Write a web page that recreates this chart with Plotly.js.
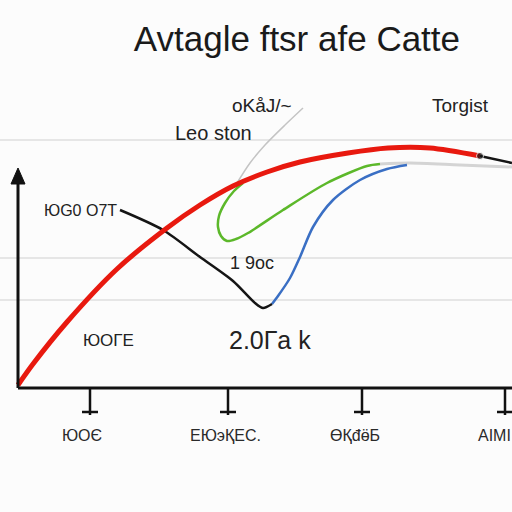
<!DOCTYPE html>
<html><head><meta charset="utf-8">
<script src="https://cdn.plot.ly/plotly-3.0.1.min.js"></script>
<style>html,body{margin:0;padding:0;background:#fcfcfc;}#chart{width:512px;height:512px;}</style>
</head><body><div id="chart"></div>
<script>
// Data (x: distance right of the vertical axis, y: height above the horizontal axis)
const redX   = [0, 15, 49, 99, 149, 182, 215, 249, 282, 330, 370, 412, 462];
const redY   = [3, 24, 66, 119, 160, 183, 202, 216, 226, 235, 240, 240, 232];
const blackX = [102, 145, 182, 215, 237, 245, 254];
const blackY = [178, 158, 131, 107, 85, 80, 84];
const blackTailX = [462, 494];
const blackTailY = [232, 225];
const blueX  = [254, 260, 272, 282, 295, 315, 342, 369, 389];
const blueY  = [84, 92, 110, 131, 161, 188, 208, 219, 223];
const greenX = [225, 216, 207, 201, 200, 203, 209, 218, 230, 265, 309, 349, 362];
const greenY = [205, 197, 185, 172, 161, 152, 147, 149, 155, 178, 205, 222, 224];
const grayTailX = [362, 392, 442, 494];
const grayTailY = [224, 225, 223, 221];
const grayUpX = [285, 267, 247, 232, 219];
const grayUpY = [280, 263, 243, 225, 205];

const tickVals   = [72, 210, 344, 487];
const tickLabels = ["ЮОЄ", "ЕЮэҚЕС.", "ӨҚđӫБ", "AIMI"];
const tickLabelX = [64, 207, 337, 476];
const gridVals   = [88, 130, 248];

const noteTexts = ["oKåJ/~", "Torgist", "Leo ston", "ЮG0 O7T", "1 9oc", "ЮОГЕ", "2.0Гa k"];
const noteX     = [244, 442, 195, 62, 234, 90, 252];
const noteY     = [283, 283, 255, 178, 125, 48, 48];
const noteSize  = [19, 19, 20, 16, 18, 17, 25];

const titleText = "Avtagle ftsr afe Catte";

const FONT = "Liberation Sans, Arial, sans-serif";
const spline = {shape: 'spline', smoothing: 0.8};
const traces = [
  {x: grayUpX, y: grayUpY, mode: 'lines', line: Object.assign({color: '#c4c4c4', width: 1.5}, spline)},
  {x: grayTailX, y: grayTailY, mode: 'lines', line: Object.assign({color: '#d4d4d4', width: 3}, spline)},
  {x: greenX, y: greenY, mode: 'lines', line: Object.assign({color: '#5cb82a', width: 2.5}, spline)},
  {x: blueX, y: blueY, mode: 'lines', line: Object.assign({color: '#3a6fc4', width: 2.5}, spline)},
  {x: blackX, y: blackY, mode: 'lines', line: Object.assign({color: '#151515', width: 2.5}, spline)},
  {x: redX, y: redY, mode: 'lines', line: Object.assign({color: '#e8190f', width: 5}, spline)},
  {x: blackTailX, y: blackTailY, mode: 'lines+markers', line: {color: '#151515', width: 2.5},
   marker: {color: '#151515', size: [7, 0]}}
];

const shapes = [];
// axes
shapes.push({type: 'line', xref: 'x', yref: 'y', x0: 0, x1: 494, y0: 0, y1: 0, line: {color: '#111', width: 3}});
shapes.push({type: 'line', xref: 'x', yref: 'y', x0: 0, x1: 0, y0: 0, y1: 210, line: {color: '#111', width: 3}});
shapes.push({type: 'path', xref: 'x', yref: 'y', path: 'M -7,204 L 7,204 L 0,220 Z', fillcolor: '#111', line: {color: '#111', width: 1}});
tickVals.forEach(v => {
  shapes.push({type: 'line', xref: 'x', yref: 'y', x0: v, x1: v, y0: 0, y1: -27, line: {color: '#111', width: 2.5}});
  shapes.push({type: 'line', xref: 'x', yref: 'y', x0: v - 8, x1: v + 8, y0: -24, y1: -24, line: {color: '#111', width: 2.5}});
});

const annotations = noteTexts.map((t, i) => ({
  x: noteX[i], y: noteY[i], xref: 'x', yref: 'y', text: t, showarrow: false,
  font: {family: FONT, size: noteSize[i], color: '#222'}
}));
tickLabels.forEach((t, i) => annotations.push({
  x: tickLabelX[i], y: -47, xref: 'x', yref: 'y', text: t, showarrow: false,
  font: {family: FONT, size: 16, color: '#2a2a2a'}
}));

const layout = {
  width: 512, height: 512,
  margin: {l: 0, r: 0, t: 0, b: 52},
  paper_bgcolor: '#fcfcfc', plot_bgcolor: '#fcfcfc',
  showlegend: false,
  title: {text: titleText, x: 0.58, xanchor: 'center', y: 0.925, yref: 'container', yanchor: 'middle',
          font: {family: FONT, size: 35, color: '#1a1a1a'}},
  xaxis: {range: [-18, 494], showgrid: false, zeroline: false, showline: false, showticklabels: false, ticks: '', fixedrange: true},
  yaxis: {range: [-72, 388], tickvals: gridVals, showgrid: true, gridcolor: '#e6e6e6', gridwidth: 1.5,
          zeroline: false, showline: false, showticklabels: false, ticks: '', fixedrange: true},
  shapes: shapes,
  annotations: annotations
};
Plotly.newPlot('chart', traces, layout, {displayModeBar: false, staticPlot: true});
</script>
</body></html>
